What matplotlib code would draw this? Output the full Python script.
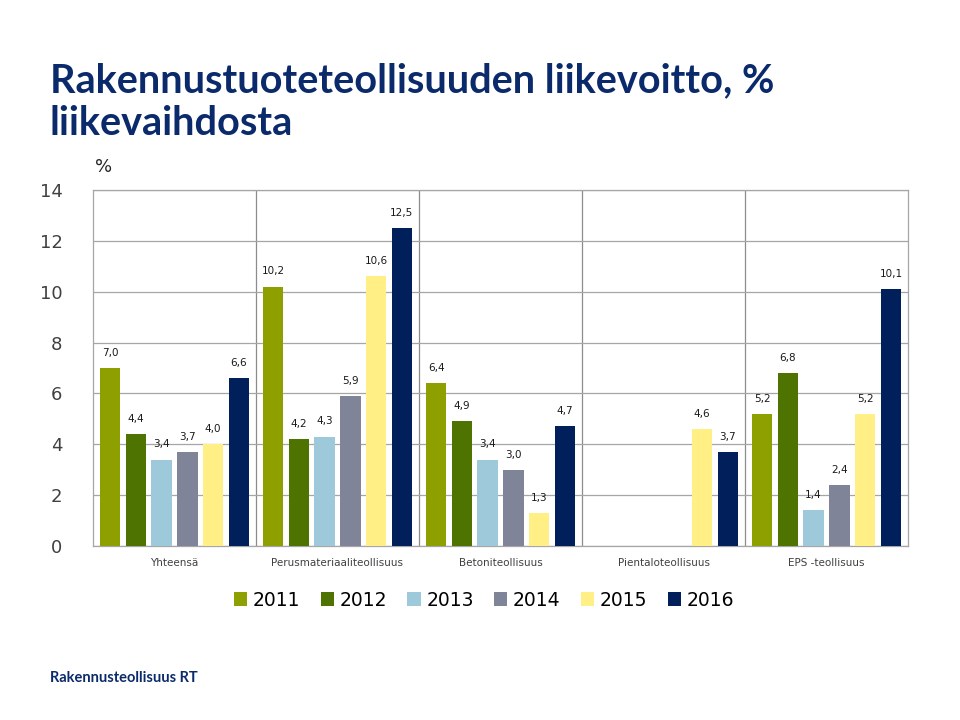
import numpy as np
import matplotlib.pyplot as plt

categories = ["Yhteensä", "Perusmateriaaliteollisuus", "Betoniteollisuus",
              "Pientaloteollisuus", "EPS -teollisuus"]
years = ["2011", "2012", "2013", "2014", "2015", "2016"]
values = {
    "2011": [7.0, 10.2, 6.4, np.nan, 5.2],
    "2012": [4.4, 4.2, 4.9, np.nan, 6.8],
    "2013": [3.4, 4.3, 3.4, np.nan, 1.4],
    "2014": [3.7, 5.9, 3.0, np.nan, 2.4],
    "2015": [4.0, 10.6, 1.3, 4.6, 5.2],
    "2016": [6.6, 12.5, 4.7, 3.7, 10.1],
}
colors = ["#8EA000", "#4F7300", "#9DC9DB", "#7F8499", "#FFEF84", "#001F5B"]

navy = "#0B2A6B"

fig = plt.figure(figsize=(9.6, 7.2), dpi=100)
ax = fig.add_axes([93/960, (720-546)/720, 815/960, 356/720])

x = np.arange(len(categories))
step = 0.158
width = 0.126
for j, yr in enumerate(years):
    vals = np.array(values[yr], dtype=float)
    pos = x + (j - 2.5) * step
    ax.bar(pos, vals, width=width, color=colors[j], label=yr, zorder=3)
    for p, v in zip(pos, vals):
        if not np.isnan(v):
            ax.text(p, v + 0.4, f"{v:.1f}".replace(".", ","), ha="center", va="bottom",
                    fontsize=7.5, color="#1a1a1a", zorder=4)

ax.set_xlim(-0.5, len(categories) - 0.5)
ax.set_ylim(0, 14)
ax.set_yticks(range(0, 15, 2))
ax.set_xticks(x)
ax.set_xticklabels(categories, fontsize=7.5, color="#404040")
ax.tick_params(axis="y", labelsize=13, colors="#404040", length=0, pad=22)
ax.tick_params(axis="x", length=0, pad=9)
ax.grid(axis="y", color="#A6A6A6", linewidth=0.9, zorder=0)
for s in np.arange(0.5, len(categories) - 0.5, 1):
    ax.axvline(s, color="#8C8C8C", linewidth=0.9, zorder=1)
for sp in ax.spines.values():
    sp.set_color("#A6A6A6")
    sp.set_linewidth(0.9)

fig.text(95/960, 1 - 167/720, "%", fontsize=13, color="#262626", va="center")

fig.text(50/960, 1 - 102/720, "Rakennustuoteteollisuuden liikevoitto, %\nliikevaihdosta",
         fontsize=28.5, fontweight="bold", color=navy, va="center", ha="left",
         family="Lato", linespacing=1.2)

fig.text(50/960, 1 - 678/720, "Rakennusteollisuus RT", fontsize=10.5, fontweight="bold",
         color=navy, va="center", family="Lato")

leg = fig.legend(loc="center", bbox_to_anchor=(484/960, 1 - 600/720), ncol=6, frameon=False,
                 fontsize=13.5, handlelength=0.7, handleheight=0.7, handletextpad=0.3,
                 columnspacing=1.1)

fig.savefig("out.png", dpi=100)
